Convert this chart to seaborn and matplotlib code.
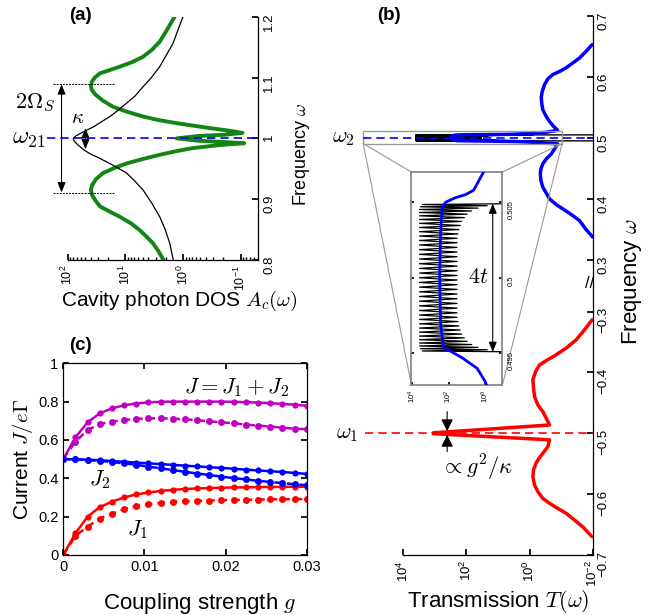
import numpy as np
import matplotlib
matplotlib.use("Agg")
import matplotlib.pyplot as plt
from matplotlib.patches import Rectangle, ConnectionPatch
from matplotlib.ticker import FixedLocator, NullLocator
import seaborn as sns

sns.set_theme(style="ticks", rc={"axes.edgecolor": "black", "text.color": "black",
                                 "axes.labelcolor": "black", "xtick.color": "black",
                                 "ytick.color": "black"})
plt.rcParams["font.family"] = ["Liberation Sans", "DejaVu Sans"]
plt.rcParams["mathtext.fontset"] = "cm"
plt.rcParams["axes.linewidth"] = 0.9

GREEN = "#138513"
MAGENTA = "#c000c0"
BLUE = "#0000ff"
RED = "#ff0000"

# ---------------- panel (a): cavity photon DOS (log10 values) ----------------
a_green_w = [1.2, 1.18, 1.159, 1.145, 1.134, 1.125, 1.118, 1.112, 1.107, 1.1, 1.093, 1.086,
             1.08, 1.072, 1.062, 1.052, 1.044, 1.036, 1.03, 1.025, 1.021, 1.017, 1.013,
             1.009, 1.006, 1.004, 1.0, 0.996, 0.994, 0.992, 0.989, 0.984, 0.979, 0.973,
             0.966, 0.959, 0.951, 0.943, 0.933, 0.923, 0.915, 0.907, 0.898, 0.888, 0.88,
             0.871, 0.86, 0.849, 0.838, 0.828, 0.815, 0.8]
a_green_log = [0.147, 0.27, 0.405, 0.548, 0.698, 0.893, 1.095, 1.28, 1.44, 1.53, 1.583, 1.598,
               1.585, 1.52, 1.39, 1.216, 0.98, 0.698, 0.42, 0.112, -0.17, -0.457, -0.77,
               -1.03, -0.72, -0.28, 0.11, -0.28, -0.72, -1.06, -0.63, -0.164, 0.12, 0.405,
               0.7, 0.974, 1.2, 1.388, 1.51, 1.578, 1.598, 1.578, 1.52, 1.44, 1.28,
               1.095, 0.9, 0.75, 0.63, 0.526, 0.43, 0.34]
a_black_w = [1.2, 1.178, 1.156, 1.137, 1.118, 1.1, 1.085, 1.07, 1.058, 1.046, 1.036, 1.027,
             1.019, 1.013, 1.008, 1.004, 1.0, 0.995, 0.989, 0.981, 0.974, 0.967, 0.955,
             0.943, 0.929, 0.915, 0.893, 0.871, 0.85, 0.828, 0.8]
a_black_log = [0.003, 0.09, 0.176, 0.29, 0.405, 0.55, 0.693, 0.83, 0.979, 1.13, 1.267, 1.42,
               1.555, 1.68, 1.784, 1.86, 1.905, 1.885, 1.82, 1.72, 1.6, 1.44, 1.2,
               0.979, 0.83, 0.693, 0.54, 0.405, 0.31, 0.233, 0.17]
a_yticks = [0.8, 0.9, 1.0, 1.1, 1.2]
a_yticklabels = ["0.8", "0.9", "1", "1.1", "1.2"]
omega_21 = 1.0
rabi_hi, rabi_lo = 1.089, 0.911
kappa_hi, kappa_lo = 1.017, 0.982

# ---------------- panel (b): transmission (log10 values) ----------------
b_blue_w = [0.653, 0.642, 0.631, 0.623, 0.615, 0.609, 0.604, 0.597, 0.587, 0.576, 0.566,
            0.555, 0.546, 0.535, 0.527, 0.519, 0.5125, 0.509, 0.507, 0.5058, 0.5055,
            0.5053, 0.505, 0.5046, 0.503, 0.5, 0.497, 0.4954, 0.4952, 0.4947, 0.494,
            0.4931, 0.4902, 0.482, 0.4738, 0.4656, 0.4574, 0.4492, 0.441, 0.430, 0.4192,
            0.4093, 0.400, 0.3907, 0.3836, 0.3743, 0.3644, 0.3497, 0.3372]
b_blue_log = [-1.98, -1.79, -1.58, -1.37, -1.16, -0.95, -0.74, -0.58, -0.47, -0.40, -0.37,
              -0.39, -0.42, -0.53, -0.63, -0.76, -0.89, -0.5, 0.1, 0.64, 1.09,
              1.64, 2.18, 2.36, 2.45, 2.5, 2.45, 2.3, 2.0, 1.27, 0.45,
              0.0, -0.89, -0.79, -0.69, -0.53, -0.42, -0.36, -0.34, -0.36, -0.42,
              -0.53, -0.63, -0.84, -1.05, -1.32, -1.58, -1.79, -2.0]
b_red_w = [-0.3137, -0.330, -0.3465, -0.360, -0.371, -0.3806, -0.3877, -0.3987, -0.4123,
           -0.426, -0.440, -0.4535, -0.4645, -0.4753, -0.4864, -0.4993, -0.5007, -0.5108,
           -0.522, -0.5293, -0.540, -0.5485, -0.5595, -0.5714, -0.585, -0.596, -0.607,
           -0.6151, -0.6234, -0.6316, -0.6426, -0.6536, -0.670]
b_red_log = [-1.98, -1.74, -1.475, -1.16, -0.844, -0.53, -0.316, -0.19, -0.105,
             -0.127, -0.158, -0.263, -0.42, -0.53, -0.632, 3.05, 3.05, -0.632,
             -0.58, -0.474, -0.316, -0.21, -0.127, -0.105, -0.158, -0.263, -0.42,
             -0.632, -0.89, -1.16, -1.42, -1.68, -1.98]
# chain transmission: resonance peaks and the valleys between them
chain_edge_w = [0.50492, 0.49508]
chain_edge_log = [-3.0, -3.0]
chain_peak_w = [0.50485, 0.50470, 0.50452, 0.50432, 0.50410, 0.50386, 0.50360, 0.50333,
                0.50305, 0.50276, 0.50247, 0.50217, 0.50186, 0.50155, 0.50124, 0.50093,
                0.50062, 0.50031, 0.50000, 0.49969, 0.49938, 0.49907, 0.49876, 0.49845,
                0.49814, 0.49783, 0.49753, 0.49724, 0.49695, 0.49667, 0.49640, 0.49614,
                0.49590, 0.49568, 0.49548, 0.49530, 0.49515]
chain_peak_log = [3.45, 3.55, 3.6, 3.6, 3.6, 3.6, 3.6, 3.6, 3.6, 3.6, 3.6, 3.6, 3.6,
                  3.6, 3.6, 3.6, 3.6, 3.6, 3.6, 3.6, 3.6, 3.6, 3.6, 3.6, 3.6, 3.6,
                  3.6, 3.6, 3.6, 3.6, 3.6, 3.6, 3.6, 3.6, 3.6, 3.55, 3.45]
chain_valley_w = [0.50477, 0.50461, 0.50442, 0.50421, 0.50398, 0.50373, 0.50346, 0.50319,
                  0.50290, 0.50261, 0.50232, 0.50201, 0.50170, 0.50139, 0.50108, 0.50077,
                  0.50046, 0.50015, 0.49985, 0.49954, 0.49923, 0.49892, 0.49861, 0.49830,
                  0.49799, 0.49768, 0.49738, 0.49710, 0.49681, 0.49654, 0.49627, 0.49602,
                  0.49579, 0.49558, 0.49539, 0.49523]
chain_valley_log = [-0.1, 0.4, 0.75, 1.0, 1.15, 1.3, 1.38, 1.45, 1.5, 1.55, 1.55, 1.55,
                    1.55, 1.55, 1.55, 1.55, 1.55, 1.55, 1.55, 1.55, 1.55, 1.55, 1.55, 1.55,
                    1.55, 1.55, 1.55, 1.5, 1.45, 1.38, 1.3, 1.15, 1.0, 0.75, 0.4, -0.1]
b_top_yticks = [0.3, 0.4, 0.5, 0.6, 0.7]
b_top_labels = ["0.3", "0.4", "0.5", "0.6", "0.7"]
b_bot_yticks = [-0.7, -0.6, -0.5, -0.4, -0.3]
b_bot_labels = ["\u22120.7", "\u22120.6", "\u22120.5", "\u22120.4", "\u22120.3"]
b_xticks = [1e4, 1e2, 1e0, 1e-2]
inset_xticks = [1e4, 1e2, 1e0]
inset_yticks = [0.495, 0.5, 0.505]
inset_ylabels = ["0.495", "0.5", "0.505"]
omega_1, omega_2 = -0.5, 0.5

# ---------------- panel (c): currents vs coupling ----------------
g_vals = [0, 0.0015, 0.003, 0.0045, 0.006, 0.0075, 0.009, 0.0105, 0.012, 0.0135, 0.015,
          0.0165, 0.018, 0.0195, 0.021, 0.0225, 0.024, 0.0255, 0.027, 0.0285, 0.03]
J_tot = [0.5, 0.614, 0.692, 0.739, 0.765, 0.781, 0.79, 0.796, 0.799, 0.8, 0.8,
         0.8, 0.8, 0.8, 0.799, 0.797, 0.795, 0.792, 0.788, 0.784, 0.778]
J_tot_d = [0.5, 0.591, 0.652, 0.683, 0.696, 0.704, 0.71, 0.713, 0.713, 0.711, 0.708,
           0.703, 0.697, 0.692, 0.687, 0.68, 0.675, 0.67, 0.664, 0.659, 0.656]
J2 = [0.5, 0.499, 0.497, 0.494, 0.49, 0.486, 0.482, 0.478, 0.474, 0.47, 0.466,
      0.462, 0.458, 0.454, 0.45, 0.445, 0.441, 0.437, 0.433, 0.428, 0.423]
J2_d = [0.5, 0.499, 0.496, 0.491, 0.485, 0.478, 0.47, 0.461, 0.452, 0.443, 0.434,
        0.425, 0.417, 0.409, 0.401, 0.394, 0.387, 0.381, 0.375, 0.369, 0.364]
J1 = [0, 0.113, 0.2, 0.25, 0.278, 0.3, 0.316, 0.326, 0.334, 0.34, 0.344,
      0.347, 0.349, 0.351, 0.352, 0.353, 0.354, 0.355, 0.355, 0.356, 0.356]
J1_d = [0, 0.1, 0.148, 0.19, 0.215, 0.24, 0.255, 0.265, 0.272, 0.277, 0.28,
        0.282, 0.284, 0.286, 0.287, 0.288, 0.289, 0.29, 0.291, 0.291, 0.292]
c_xticks = [0, 0.01, 0.02, 0.03]
c_xlabels = ["0", "0.01", "0.02", "0.03"]
c_yticks = [0, 0.2, 0.4, 0.6, 0.8, 1.0]
c_ylabels = ["0", "0.2", "0.4", "0.6", "0.8", "1"]


def curve(ax, logv, w, color, lw, z=2):
    sns.lineplot(x=np.power(10.0, logv), y=w, sort=False, estimator=None,
                 color=color, lw=lw, ax=ax, zorder=z)


# interleave peaks and valleys of the chain transmission
chain_w = [chain_edge_w[0]]
chain_log = [chain_edge_log[0]]
for i in range(len(chain_peak_w)):
    chain_w.append(chain_peak_w[i])
    chain_log.append(chain_peak_log[i])
    if i < len(chain_valley_w):
        chain_w.append(chain_valley_w[i])
        chain_log.append(chain_valley_log[i])
chain_w.append(chain_edge_w[1])
chain_log.append(chain_edge_log[1])

fig = plt.figure(figsize=(6.55, 6.15), dpi=100)

# ======================= (a) =======================
ax_a = fig.add_axes([0.1034, 0.5772, 0.2910, 0.3956])
ax_a.set_xscale("log")
curve(ax_a, a_green_log, a_green_w, GREEN, 2.8)
curve(ax_a, a_black_log, a_black_w, "black", 0.9, 3)
ax_a.set_xlim(100, 0.0497)
ax_a.set_ylim(0.8, 1.2)
for s in ("top", "left"):
    ax_a.spines[s].set_visible(False)
ax_a.yaxis.tick_right()
ax_a.set_yticks(a_yticks)
ax_a.set_yticklabels(a_yticklabels)
ax_a.tick_params(axis="x", which="both", direction="in", labelrotation=90, labelsize=9)
ax_a.tick_params(axis="x", which="major", length=4)
ax_a.tick_params(axis="x", which="minor", length=2)
ax_a.tick_params(axis="y", direction="in", labelrotation=90, labelsize=9.5, length=4)
ax_a.set_xlabel(r"Cavity photon DOS $A_c(\omega)$", fontsize=15)
ax_a.xaxis.set_label_coords(0.584, -0.118)
ax_a.set_ylabel("")
fig.text(302 / 655, 1 - 155 / 615, r"Frequency $\omega$", rotation=90,
         ha="center", va="center", fontsize=13)

ya = ax_a.get_yaxis_transform()
ax_a.plot([-0.11, 1], [omega_21, omega_21], transform=ya, color=BLUE, ls="--",
          dashes=(5, 3), lw=1.2, clip_on=False, zorder=4)
for w in (rabi_hi, rabi_lo):
    ax_a.plot([-0.077, 0.25], [w, w], transform=ya, color="black", ls="--",
              dashes=(2, 1.2), lw=0.7, clip_on=False)
arrow2 = dict(arrowstyle="<|-|>,head_length=0.5,head_width=0.2", color="black",
              lw=0.8, shrinkA=0, shrinkB=0)
ax_a.annotate("", xy=(-0.0325, rabi_hi), xytext=(-0.0325, rabi_lo), xycoords=ya,
              textcoords=ya, arrowprops=arrow2, annotation_clip=False)
ax_a.annotate("", xy=(0.093, kappa_hi), xytext=(0.093, kappa_lo), xycoords=ya,
              textcoords=ya, arrowprops=arrow2, annotation_clip=False)
ax_a.text(-0.172, 1.058, r"$2\Omega_S$", transform=ya, ha="center", va="center", fontsize=16)
ax_a.text(0.051, 1.034, r"$\kappa$", transform=ya, ha="center", va="center", fontsize=15)
ax_a.text(-0.118, omega_21, r"$\omega_{21}$", transform=ya, ha="right", va="center", fontsize=18)

# ======================= (b) =======================
ax_bt = fig.add_axes([0.6157, 0.5350, 0.2892, 0.4390])
ax_bb = fig.add_axes([0.6157, 0.0976, 0.2892, 0.4374])
for ax in (ax_bt, ax_bb):
    ax.set_xscale("log")
    for s in ("top", "left"):
        ax.spines[s].set_visible(False)
    ax.yaxis.tick_right()
    ax.tick_params(axis="y", direction="in", labelrotation=90, labelsize=9.5, length=4)

curve(ax_bt, chain_log, chain_w, "black", 1.0, 2)
curve(ax_bt, b_blue_log, b_blue_w, BLUE, 2.5, 3)
ax_bt.set_xlim(1e4, 1e-2)
ax_bt.set_ylim(0.257, 0.7)
ax_bt.spines["bottom"].set_visible(False)
ax_bt.tick_params(axis="x", which="both", bottom=False, labelbottom=False)
ax_bt.set_yticks(b_top_yticks)
ax_bt.set_yticklabels(b_top_labels)
ax_bt.set_xlabel("")
ax_bt.set_ylabel("")

curve(ax_bb, b_red_log, b_red_w, RED, 2.5, 3)
ax_bb.set_xlim(1e4, 1e-2)
ax_bb.set_ylim(-0.7, -0.258)
ax_bb.set_yticks(b_bot_yticks)
ax_bb.set_yticklabels(b_bot_labels)
ax_bb.xaxis.set_major_locator(FixedLocator(b_xticks))
ax_bb.xaxis.set_minor_locator(NullLocator())
ax_bb.tick_params(axis="x", direction="in", labelrotation=90, labelsize=9.5, length=4)
ax_bb.set_xlabel(r"Transmission $T(\omega)$", fontsize=16)
ax_bb.xaxis.set_label_coords(0.5, -0.124)
ax_bb.set_ylabel("")
fig.text(632 / 655, 1 - 282 / 615, r"Frequency $\omega$", rotation=90,
         ha="center", va="center", fontsize=16)
fig.text(590 / 655, 1 - 284 / 615, "//", ha="center", va="center", fontsize=12)

yt = ax_bt.get_yaxis_transform()
yb = ax_bb.get_yaxis_transform()
ax_bt.plot([-0.213, 1], [omega_2, omega_2], transform=yt, color=BLUE, ls="--",
           dashes=(5, 3), lw=1.2, clip_on=False, zorder=5)
ax_bb.plot([-0.202, 1], [omega_1, omega_1], transform=yb, color=RED, ls="--",
           dashes=(5, 3), lw=1.2, clip_on=False, zorder=5)
ax_bt.text(-0.318, omega_2, r"$\omega_2$", transform=yt, ha="center", va="center", fontsize=16)
ax_bb.text(-0.298, omega_1, r"$\omega_1$", transform=yb, ha="center", va="center", fontsize=16)

arrow1 = dict(arrowstyle="-|>,head_length=0.6,head_width=0.3", color="black",
              lw=0.8, shrinkA=0, shrinkB=0)
ax_bb.annotate("", xy=(10 ** 2.61, -0.4965), xytext=(10 ** 2.61, -0.4645),
               arrowprops=arrow1)
ax_bb.annotate("", xy=(10 ** 2.61, -0.5027), xytext=(10 ** 2.61, -0.530),
               arrowprops=arrow1)
ax_bb.text(10 ** 1.67, -0.557, r"$\propto g^2/\kappa$", ha="center", va="center", fontsize=16)

# zoom box on the omega_2 line
zx0, zx1, zy0, zy1 = 10 ** 5.27, 10 ** -1.03, 0.4907, 0.5108
ax_bt.add_patch(Rectangle((zx0, zy0), zx1 - zx0, zy1 - zy0, fill=False,
                          edgecolor="0.6", lw=1.0, clip_on=False, zorder=4))

# ---- inset ----
ax_in = fig.add_axes([0.6282, 0.3740, 0.1389, 0.3463])
ax_in.set_zorder(6)
ax_in.set_facecolor("white")
ax_in.set_xscale("log")
curve(ax_in, chain_log, chain_w, "black", 0.9, 2)
curve(ax_in, b_blue_log, b_blue_w, BLUE, 2.0, 3)
ax_in.set_xlim(10 ** 4.04, 10 ** -0.93)
ax_in.set_ylim(0.4929, 0.5070)
for s in ax_in.spines.values():
    s.set_edgecolor("0.5")
    s.set_linewidth(1.2)
ax_in.xaxis.set_major_locator(FixedLocator(inset_xticks))
ax_in.xaxis.set_minor_locator(NullLocator())
ax_in.set_yticks(inset_yticks)
ax_in.set_yticklabels(inset_ylabels)
ax_in.tick_params(axis="both", direction="in", labelsize=5.5, length=2.5, labelrotation=90)
ax_in.tick_params(axis="y", left=True, right=True, labelleft=False, labelright=True)
ax_in.set_xlabel("")
ax_in.set_ylabel("")
ax_in.annotate("", xy=(10 ** -0.4, 0.50492), xytext=(10 ** -0.4, 0.49508),
               arrowprops=dict(arrowstyle="<|-|>,head_length=0.5,head_width=0.2",
                               color="black", lw=0.8, shrinkA=0, shrinkB=0))
ax_in.text(10 ** 0.38, 0.5, r"$4t$", ha="center", va="center", fontsize=16)

for xa, xb in (((zx0, zy0), (0, 1)), ((zx0, zy0), (0, 0)),
               ((zx1, zy0), (1, 1)), ((zx1, zy0), (1, 0))):
    cp = ConnectionPatch(xyA=xa, coordsA=ax_bt.transData, xyB=xb, coordsB=ax_in.transAxes,
                         color="0.6", lw=0.8)
    fig.add_artist(cp)

# ======================= (c) =======================
ax_c = fig.add_axes([0.0966, 0.0976, 0.3716, 0.3117])
for ys, col in ((J_tot, MAGENTA), (J2, BLUE), (J1, RED)):
    sns.lineplot(x=g_vals, y=ys, color=col, lw=1.8, marker="o", markersize=4.5,
                 markeredgewidth=0, ax=ax_c)
for ys, col in ((J_tot_d, MAGENTA), (J2_d, BLUE), (J1_d, RED)):
    sns.lineplot(x=g_vals, y=ys, color=col, lw=1.8, marker="o",
                 markersize=5, markeredgewidth=0, ax=ax_c)
    ax_c.lines[-1].set_linestyle((0, (3, 2)))
ax_c.set_xlim(0, 0.03)
ax_c.set_ylim(0, 1)
ax_c.set_xticks(c_xticks)
ax_c.set_xticklabels(c_xlabels)
ax_c.set_yticks(c_yticks)
ax_c.set_yticklabels(c_ylabels)
ax_c.tick_params(direction="in", top=True, right=True, labelsize=10.5, length=4)
ax_c.set_xlabel(r"Coupling strength $g$", fontsize=16)
ax_c.xaxis.set_label_coords(0.56, -0.19)
ax_c.set_ylabel(r"Current $J/e\Gamma$", fontsize=15)
ax_c.yaxis.set_label_coords(-0.166, 0.5)
ax_c.yaxis.label.set_va("center")
ax_c.text(0.0214, 0.871, r"$J = J_1 + J_2$", ha="center", va="center", fontsize=16)
ax_c.text(0.00452, 0.391, r"$J_2$", ha="center", va="center", fontsize=16)
ax_c.text(0.0091, 0.13, r"$J_1$", ha="center", va="center", fontsize=16)

fig.text(80 / 655, 1 - 15 / 615, "(a)", ha="center", va="center", fontsize=13.5, fontweight="bold")
fig.text(389 / 655, 1 - 15 / 615, "(b)", ha="center", va="center", fontsize=13.5, fontweight="bold")
fig.text(80 / 655, 1 - 345 / 615, "(c)", ha="center", va="center", fontsize=13.5, fontweight="bold")

fig.savefig("out.png", dpi=100)
